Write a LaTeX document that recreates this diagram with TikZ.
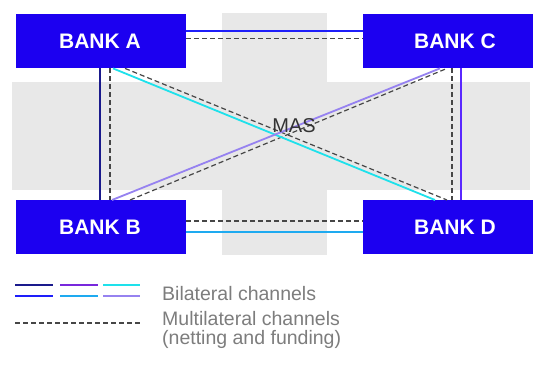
\documentclass[tikz,border=0pt]{standalone}
\usepackage{fontspec}
\setmainfont{Liberation Sans}
\definecolor{bankblue}{RGB}{28,0,240}
\definecolor{bandgray}{RGB}{232,232,232}
\definecolor{navyline}{RGB}{26,26,140}
\definecolor{topblue}{RGB}{30,30,250}
\definecolor{violetblue}{RGB}{90,40,255}
\definecolor{skyline}{RGB}{30,170,240}
\definecolor{cyanline}{RGB}{30,225,235}
\definecolor{lavline}{RGB}{150,130,240}
\definecolor{purpline}{RGB}{120,40,220}
\definecolor{dashgray}{RGB}{70,70,70}
\definecolor{legtext}{RGB}{125,125,125}
\tikzset{
  bank/.style={fill=bankblue, draw=none, minimum width=170pt, minimum height=54pt, inner sep=0pt, anchor=north west},
  banklabel/.style={text=white, font=\bfseries\fontsize{21}{24}\selectfont, inner sep=0pt},
  solidlink/.style={line width=1.8pt},
  dashlink/.style={dashgray, line width=1.2pt, dash pattern=on 5pt off 3pt},
  legtxt/.style={text=legtext, font=\fontsize{19.5}{23}\selectfont, anchor=west, inner sep=0pt}
}
\begin{document}
\begin{tikzpicture}[x=1pt,y=-1pt]
\useasboundingbox (0,0) rectangle (541,376);
\fill[white] (0,0) rectangle (541,376);
% background cross
\fill[bandgray] (12,82) rectangle (530,190);
\fill[bandgray] (222,13) rectangle (327,255);
% banks
\node[bank] (A) at (16,14) {};
\node[bank] (C) at (363,14) {};
\node[bank] (B) at (16,200) {};
\node[bank] (D) at (363,200) {};
\node[banklabel] (la) at (100,41) {BANK A};
\node[banklabel] (lc) at (455,41) {BANK C};
\node[banklabel] (lb) at (100,227) {BANK B};
\node[banklabel] (ld) at (455,227) {BANK D};
% bilateral and multilateral channels
\draw[solidlink, topblue] ([yshift=-17pt]A.north east) -- ([yshift=-17pt]C.north west);
\draw[dashlink] ([yshift=-24.5pt]A.north east) -- ([yshift=-24.5pt]C.north west);
\draw[solidlink, navyline] ([xshift=84pt]A.south west) -- ([xshift=84pt]B.north west);
\draw[dashlink] ([xshift=94pt]A.south west) -- ([xshift=94pt]B.north west);
\draw[solidlink, violetblue] ([xshift=98pt]C.south west) -- ([xshift=98pt]D.north west);
\draw[dashlink] ([xshift=89pt]C.south west) -- ([xshift=89pt]D.north west);
\draw[dashlink] ([yshift=-21pt]B.north east) -- ([yshift=-21pt]D.north west);
\draw[solidlink, skyline] ([yshift=-32pt]B.north east) -- ([yshift=-32pt]D.north west);
\draw[dashlink] ([xshift=109pt]A.south west) -- ([xshift=84pt]D.north west);
\draw[dashlink] ([xshift=114pt]B.north west) -- ([xshift=84pt]C.south west);
\draw[solidlink, cyanline] ([xshift=97pt]A.south west) -- ([xshift=72pt]D.north west);
\draw[solidlink, lavline] ([xshift=96pt]B.north west) -- ([xshift=77pt]C.south west);
\node[text=black!80, font=\fontsize{20}{24}\selectfont, inner sep=0pt] (mas) at (294,126) {MAS};
% legend
\coordinate (l1a) at (15,285); \coordinate (l1b) at (53,285);
\coordinate (l2a) at (15,296); \coordinate (l2b) at (53,296);
\draw[solidlink, navyline] (l1a) -- (l1b);
\draw[solidlink, topblue] (l2a) -- (l2b);
\coordinate (l3a) at (60,285); \coordinate (l3b) at (98,285);
\coordinate (l4a) at (60,296); \coordinate (l4b) at (98,296);
\draw[solidlink, purpline] (l3a) -- (l3b);
\draw[solidlink, skyline] (l4a) -- (l4b);
\coordinate (l5a) at (103,285); \coordinate (l5b) at (140,285);
\coordinate (l6a) at (103,296); \coordinate (l6b) at (140,296);
\draw[solidlink, cyanline] (l5a) -- (l5b);
\draw[solidlink, lavline] (l6a) -- (l6b);
\coordinate (l7a) at (15,323); \coordinate (l7b) at (140,323);
\draw[dashlink] (l7a) -- (l7b);
\node[legtxt] (t1) at (162,294) {Bilateral channels};
\node[legtxt] (t2) at (162,319) {Multilateral channels};
\node[legtxt] (t3) at (162,339) {(netting and funding)};
\end{tikzpicture}
\end{document}
